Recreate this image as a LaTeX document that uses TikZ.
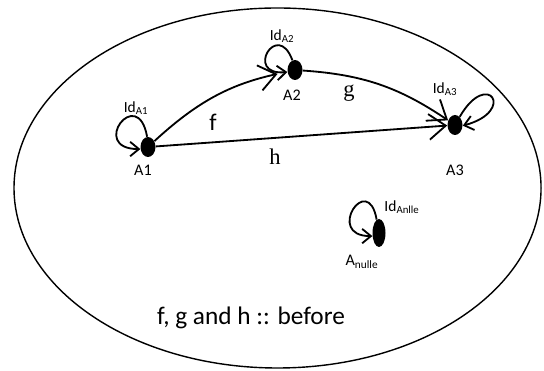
\documentclass[tikz,border=0pt]{standalone}
\usepackage{fontspec}
\setmainfont{Carlito}
\newfontfamily\timesface{Liberation Serif}
\usetikzlibrary{arrows.meta,shapes.geometric}

\begin{document}
\begin{tikzpicture}[
  obj/.style={ellipse, fill=black, inner sep=0pt, minimum width=0.375cm, minimum height=0.500cm},
  idloop/.style={line width=1.3pt, -{Straight Barb[length=2.2mm,width=3.6mm]}},
  morph/.style={line width=1.3pt, -{Straight Barb[length=4.2mm,width=6.4mm]}},
  objlabel/.style={font=\fontsize{11.5}{13}\selectfont},
  idlabel/.style={font=\fontsize{11}{13}\selectfont},
  maplabel/.style={font=\fontsize{17}{20}\selectfont}]
\useasboundingbox (0,0) rectangle (13.600,9.275);
% the category
\draw[line width=1pt] (6.938,4.575) ellipse [x radius=6.588, y radius=4.500];
% objects
\node[obj] (a1) at (3.700,5.600) {};
\node[obj] (a2) at (7.375,7.525) {};
\node[obj] (a3) at (11.375,6.150) {};
\node[obj, minimum width=0.325cm, minimum height=0.700cm] (anulle) at (9.475,3.450) {};
\node[objlabel] (a1lab) at (3.575,5.025) {A1};
\node[objlabel] (a2lab) at (7.300,6.900) {A2};
\node[objlabel] (a3lab) at (11.375,5.025) {A3};
\node[objlabel] (anullelab) at (9.050,2.725) {A\textsubscript{nulle}};
% identities
\draw[idloop] (a1.95) .. controls +(100:1.350) and +(180:1.300) .. (a1.195);
\draw[idloop] (a2.105) .. controls +(110:1.100) and +(185:1.100) .. (a2.195);
\draw[idloop] (a3.60) .. controls +(60:1.400) and +(15:1.400) .. (a3.-5);
\draw[idloop] (anulle.100) .. controls +(100:1.250) and +(180:1.200) .. (anulle.205);
\node[idlabel] (ida1) at (3.400,6.575) {Id\textsubscript{A1}};
\node[idlabel] (ida2) at (7.050,8.375) {Id\textsubscript{A2}};
\node[idlabel] (ida3) at (11.125,7.050) {Id\textsubscript{A3}};
\node[idlabel] (idanulle) at (10.050,4.100) {Id\textsubscript{Anlle}};
% morphisms
\draw[morph, shorten >=0.250cm] (a1) to[bend left=15] (a2);
\draw[morph] (a2) to[bend left=15] (a3);
\draw[morph] (a1) -- (a3);
\node[maplabel] (flab) at (5.325,6.225) {f};
\node[maplabel, font=\timesface\fontsize{16}{20}\selectfont] (glab) at (8.725,6.950) {g};
\node[maplabel, font=\timesface\fontsize{16}{20}\selectfont] (hlab) at (6.875,5.350) {h};
\node[font=\fontsize{18}{22}\selectfont] (caption) at (6.275,1.325) {f, g and h :: before};
\end{tikzpicture}
\end{document}
